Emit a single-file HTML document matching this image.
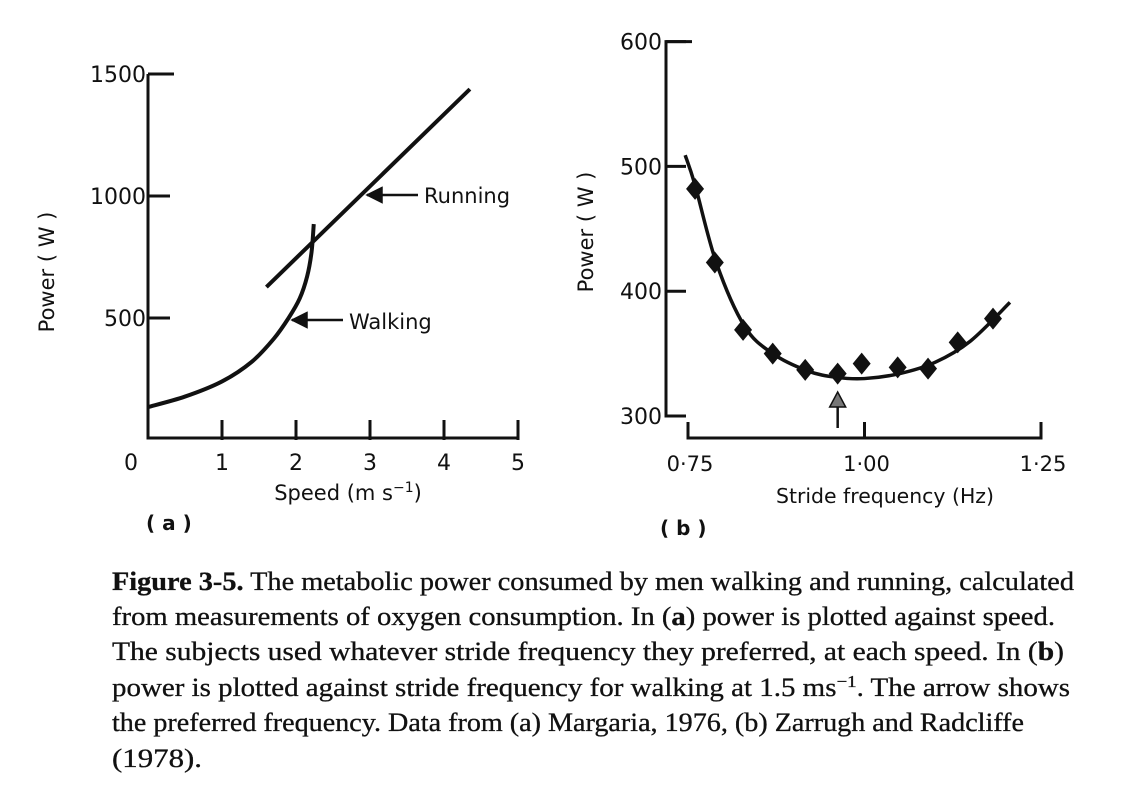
<!DOCTYPE html>
<html><head><meta charset="utf-8"><style>
html,body{margin:0;padding:0;background:#fff;}
svg{display:block}
.sans{font-family:"DejaVu Sans","Liberation Sans",sans-serif;fill:#111}
.serif{font-family:"Liberation Serif",serif;fill:#111}
</style></head><body>
<svg id="fig" width="1136" height="810" viewBox="0 0 1136 810">
<defs>
<marker id="ah" viewBox="0 0 10 10" refX="9" refY="5" markerWidth="7" markerHeight="7" orient="auto-start-reverse"><path d="M0,0 L10,5 L0,10 z" fill="#111"/></marker>
</defs>
<g id="chartA"></g>
<g id="chartB"></g>
<g class="serif" font-size="26" stroke="#111" stroke-width="0.3">
<text x="112" y="590" textLength="962" lengthAdjust="spacingAndGlyphs"><tspan font-weight="bold">Figure 3-5.</tspan> The metabolic power consumed by men walking and running, calculated</text>
<text x="112" y="625" textLength="943" lengthAdjust="spacingAndGlyphs">from measurements of oxygen consumption. In (<tspan font-weight="bold">a</tspan>) power is plotted against speed.</text>
<text x="112" y="660" textLength="952" lengthAdjust="spacingAndGlyphs">The subjects used whatever stride frequency they preferred, at each speed. In (<tspan font-weight="bold">b</tspan>)</text>
<text x="112" y="696" textLength="958" lengthAdjust="spacingAndGlyphs">power is plotted against stride frequency for walking at 1.5 ms<tspan dy="-9" font-size="17">−1</tspan><tspan dy="9">. The arrow shows</tspan></text>
<text x="112" y="731" textLength="912" lengthAdjust="spacingAndGlyphs">the preferred frequency. Data from (a) Margaria, 1976, (b) Zarrugh and Radcliffe</text>
<text x="112" y="767" textLength="90" lengthAdjust="spacingAndGlyphs">(1978).</text>
</g>
</svg>
<script>
// Chart (a) data
const aXTicks = [0,1,2,3,4,5];
const aYTicks = [500,1000,1500];
const walkSpeed = [0,0.5,1.0,1.4,1.7,1.9,2.05,2.15,2.21,2.24];
const walkPower = [135,178,240,320,415,500,580,670,770,885];
const runSpeed = [1.6,4.35];
const runPower = [627,1438];
// Chart (b) data
const bXTicks = [0.75,1.00,1.25];
const bXTickLabels = ["0·75","1·00","1·25"];
const bYTicks = [300,400,500,600];
const strideFreq = [0.76,0.788,0.828,0.87,0.916,0.962,0.996,1.047,1.09,1.132,1.182];
const stridePower = [482,423,369,350,337,334,342,339,338,359,378];
const fitFreq = [0.746,0.76,0.79,0.83,0.87,0.92,0.96,1.0,1.05,1.1,1.15,1.206];
const fitPower = [509,485,423,372,350,336,331,330,334,343,360,391];
const preferredFreq = 0.962;

const NS="http://www.w3.org/2000/svg";
function mk(tag,attrs,parent,txt){const e=document.createElementNS(NS,tag);for(const k in attrs)e.setAttribute(k,attrs[k]);if(txt!==undefined)e.textContent=txt;parent.appendChild(e);return e;}
function smooth(pts){let d="M"+pts[0][0]+","+pts[0][1];for(let i=0;i<pts.length-1;i++){const p0=pts[Math.max(i-1,0)],p1=pts[i],p2=pts[i+1],p3=pts[Math.min(i+2,pts.length-1)];const c1x=p1[0]+(p2[0]-p0[0])/6,c1y=p1[1]+(p2[1]-p0[1])/6,c2x=p2[0]-(p3[0]-p1[0])/6,c2y=p2[1]-(p3[1]-p1[1])/6;d+=" C"+c1x+","+c1y+" "+c2x+","+c2y+" "+p2[0]+","+p2[1];}return d;}

// ---- chart A
const A=document.getElementById('chartA');
const ax=v=>148+v*74, ay=v=>440-v*0.244;
let e;
e=mk('path',{d:`M${ax(0)},${ay(1500)} V${ay(0)-2} H${ax(5)}`,fill:'none',stroke:'#111','stroke-width':3},A);


aYTicks.forEach(v=>{
 e=mk('line',{x1:ax(0),x2:ax(0)+(v==1500?26:22),y1:ay(v),y2:ay(v),stroke:'#111','stroke-width':3},A);
 
 
 e=mk('text',{x:ax(0)-2,y:ay(v)+8,'text-anchor':'end',class:'sans','font-size':22},A,String(v));
 
 
});
aXTicks.forEach(v=>{
 if(v>0){e=mk('line',{x1:ax(v),x2:ax(v),y1:ay(0),y2:ay(0)-20,stroke:'#111','stroke-width':3},A);
 
 }
 e=mk('text',{x:ax(v)-(v==0?17:0),y:470,'text-anchor':'middle',class:'sans','font-size':22},A,String(v));
 
 
});
e=mk('path',{d:smooth(walkSpeed.map((s,i)=>[ax(s),ay(walkPower[i])])),fill:'none',stroke:'#111','stroke-width':4},A);


e=mk('line',{x1:ax(runSpeed[0]),y1:ay(runPower[0]),x2:ax(runSpeed[1]),y2:ay(runPower[1]),stroke:'#111','stroke-width':4},A);


e=mk('line',{x1:418,y1:195,x2:367,y2:195,stroke:'#111','stroke-width':2.5,'marker-end':'url(#ah)'},A);


e=mk('text',{x:424,y:203,class:'sans','font-size':21},A,'Running');


e=mk('line',{x1:343,y1:320,x2:292,y2:320,stroke:'#111','stroke-width':2.5,'marker-end':'url(#ah)'},A);


e=mk('text',{x:349,y:329,class:'sans','font-size':21},A,'Walking');


e=mk('text',{x:348,y:500,'text-anchor':'middle',class:'sans','font-size':21},A);
e.innerHTML='Speed (m s<tspan dy="-8" font-size="14">−1</tspan><tspan dy="8">)</tspan>';


e=mk('text',{x:0,y:0,'text-anchor':'middle',class:'sans','font-size':21,transform:'translate(54,272) rotate(-90)'},A,'Power ( W )');


e=mk('text',{x:146,y:530,class:'sans','font-size':20,'font-weight':'bold'},A,'( a )');



// ---- chart B
const B=document.getElementById('chartB');
const bx=v=>688+(v-0.75)*706, by=v=>416-(v-300)*1.248;
e=mk('path',{d:`M${692},${by(600)} H666 V${by(300)} H${666+20}`,fill:'none',stroke:'#111','stroke-width':3},B);


bYTicks.forEach(v=>{
 e=mk('line',{x1:666,x2:686,y1:by(v),y2:by(v),stroke:'#111','stroke-width':3},B);
 
 
 e=mk('text',{x:662,y:by(v)+8,'text-anchor':'end',class:'sans','font-size':22},B,String(v));
 
 
});
e=mk('path',{d:`M${bx(0.75)},424 V438 H${bx(1.25)} V424`,fill:'none',stroke:'#111','stroke-width':3},B);


bXTicks.forEach((v,i)=>{
 e=mk('line',{x1:bx(v),x2:bx(v),y1:438,y2:422,stroke:'#111','stroke-width':3},B);
 
 
 e=mk('text',{x:bx(v)+2,y:471,'text-anchor':'middle',class:'sans','font-size':21},B,bXTickLabels[i]);
 
 
});
e=mk('path',{d:smooth(fitFreq.map((f,i)=>[bx(f),by(fitPower[i])])),fill:'none',stroke:'#111','stroke-width':3.5},B);


strideFreq.forEach((f,i)=>{
 const x=bx(f),y=by(stridePower[i]);
 e=mk('path',{d:`M${x},${y-11} L${x+9},${y} L${x},${y+11} L${x-9},${y} z`,fill:'#111'},B);
 
 
});
const px=bx(preferredFreq);
e=mk('line',{x1:px,x2:px,y1:428,y2:404,stroke:'#111','stroke-width':2.5},B);


e=mk('path',{d:`M${px},392 L${px+8},407 L${px-8},407 z`,fill:'#777',stroke:'#111','stroke-width':1.5},B);


e=mk('text',{x:885,y:503,'text-anchor':'middle',class:'sans','font-size':20,textLength:218,lengthAdjust:'spacingAndGlyphs'},B,'Stride frequency (Hz)');


e=mk('text',{x:0,y:0,'text-anchor':'middle',class:'sans','font-size':21,transform:'translate(593,232) rotate(-90)'},B,'Power ( W )');


e=mk('text',{x:660,y:535,class:'sans','font-size':20,'font-weight':'bold'},B,'( b )');


</script>
</body></html>
